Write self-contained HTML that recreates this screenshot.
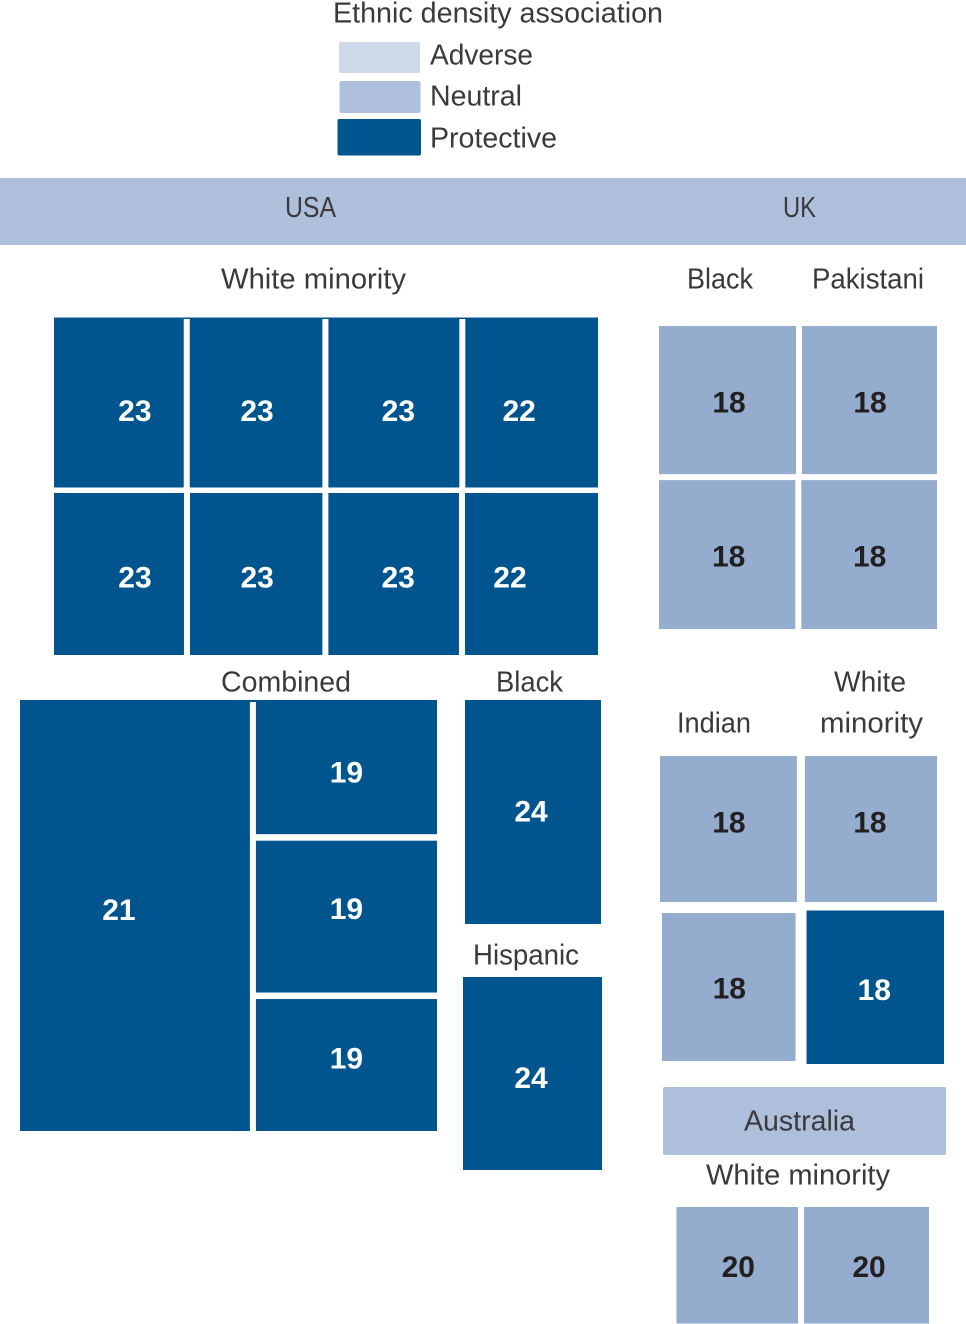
<!DOCTYPE html>
<html lang="en">
<head>
<meta charset="utf-8">
<title>Ethnic density association</title>
<style>
  html, body { margin: 0; padding: 0; background: #fff; }
  svg { display: block; }
  text { font-family: "Liberation Sans", sans-serif; }
  .head { font-size: 28.5px; fill: #3a3a3c; }
  .num { font-size: 30px; font-weight: bold; text-anchor: middle; }
  .num-neutral { fill: #231f20; }
  .num-protective { fill: #ffffff; }
  .tile-neutral { fill: #94acce; }
  .tile-protective { fill: #00558e; }
</style>
</head>
<body>
<svg id="chart" width="966" height="1324" viewBox="0 0 966 1324" xmlns="http://www.w3.org/2000/svg">
  <rect width="966" height="1324" fill="#ffffff"/>

  <g>
    <text class="head" x="333" y="22.5" textLength="330" lengthAdjust="spacingAndGlyphs">Ethnic density association</text>
    <rect x="339" y="42" width="81" height="31" rx="2" fill="#ced9ea"/>
    <text class="head" x="430" y="64.5" textLength="103" lengthAdjust="spacingAndGlyphs">Adverse</text>
    <rect x="339.5" y="81" width="81" height="32" rx="2" fill="#aebfdc"/>
    <text class="head" x="430" y="105.5" textLength="92" lengthAdjust="spacingAndGlyphs">Neutral</text>
    <rect x="337.5" y="119" width="83.5" height="36.5" rx="2" fill="#00558e"/>
    <text class="head" x="430" y="147.5" textLength="127" lengthAdjust="spacingAndGlyphs">Protective</text>
  </g>

  <rect x="0" y="178" width="966" height="67" fill="#aebfdc"/>
  <text class="head" x="285" y="217" textLength="51" lengthAdjust="spacingAndGlyphs">USA</text>
  <text class="head" x="783" y="217" textLength="33" lengthAdjust="spacingAndGlyphs">UK</text>

  <text class="head" x="221" y="288.5" textLength="185" lengthAdjust="spacingAndGlyphs">White minority</text>
  <text class="head" x="687" y="288.5" textLength="66" lengthAdjust="spacingAndGlyphs">Black</text>
  <text class="head" x="812" y="288.5" textLength="112" lengthAdjust="spacingAndGlyphs">Pakistani</text>
  <text class="head" x="221" y="691.5" textLength="130" lengthAdjust="spacingAndGlyphs">Combined</text>
  <text class="head" x="496" y="691.5" textLength="67" lengthAdjust="spacingAndGlyphs">Black</text>
  <text class="head" x="473" y="964.5" textLength="106" lengthAdjust="spacingAndGlyphs">Hispanic</text>
  <text class="head" x="677" y="732.5" textLength="74" lengthAdjust="spacingAndGlyphs">Indian</text>
  <text class="head" x="834" y="691.5" textLength="72" lengthAdjust="spacingAndGlyphs">White</text>
  <text class="head" x="820" y="732.5" textLength="103" lengthAdjust="spacingAndGlyphs">minority</text>

  <rect x="663" y="1087" width="283" height="68" rx="2" fill="#aebfdc"/>
  <text class="head" x="744" y="1130.5" textLength="111" lengthAdjust="spacingAndGlyphs">Australia</text>
  <text class="head" x="706" y="1184.5" textLength="184" lengthAdjust="spacingAndGlyphs">White minority</text>

  <g id="tiles"></g>
</svg>

<script>
// Printed reference numbers on each tile
const usaWhiteLabels = [[23, 23, 23, 22], [23, 23, 23, 22]];
const usaCombinedLabels = [[21], [19, 19, 19]];
const usaBlackHispanicLabels = [[24, 24]];
const ukBlackPakistaniLabels = [[18, 18], [18, 18]];
const ukIndianWhiteTopLabels = [[18, 18]];
const ukIndianWhiteBottomLabels = [[18, 18]];
const australiaLabels = [[20, 20]];

// Relative tile areas
const usaWhiteAreas = [[221, 226, 223, 226], [211, 215, 212, 216]];
const usaCombinedAreas = [[961], [243, 275, 239]];
const usaBlackHispanicAreas = [[311, 268]];
const ukBlackPakistaniAreas = [[203, 200], [203, 202]];
const ukIndianWhiteTopAreas = [[200, 193]];
const ukIndianWhiteBottomAreas = [[205, 211]];
const australiaAreas = [[142, 146]];

// Association category per tile
const usaWhiteAssoc = [['protective', 'protective', 'protective', 'protective'], ['protective', 'protective', 'protective', 'protective']];
const usaCombinedAssoc = [['protective'], ['protective', 'protective', 'protective']];
const usaBlackHispanicAssoc = [['protective', 'protective']];
const ukBlackPakistaniAssoc = [['neutral', 'neutral'], ['neutral', 'neutral']];
const ukIndianWhiteTopAssoc = [['neutral', 'neutral']];
const ukIndianWhiteBottomAssoc = [['neutral', 'protective']];
const australiaAssoc = [['neutral', 'neutral']];

const SVG_NS = 'http://www.w3.org/2000/svg';
const tilesLayer = document.getElementById('tiles');

function sum(list) {
  return list.reduce(function (a, b) { return a + b; }, 0);
}

// Maps a share of a total onto a pixel span
function spanScale(total, pixels) {
  return function (value) { return value / total * pixels; };
}

function drawTreemap(name, labels, areas, assoc, box) {
  const byRows = box.dir === 'rows';
  const mainStart = byRows ? box.y0 : box.x0;
  const mainEnd = byRows ? box.y1 : box.x1;
  const crossStart = byRows ? box.x0 : box.y0;
  const crossEnd = byRows ? box.x1 : box.y1;
  const sliceTotals = areas.map(sum);
  const mainScale = spanScale(sum(sliceTotals), mainEnd - mainStart - box.gapMain * (areas.length - 1));
  let mainPos = mainStart;
  let flat = 0;

  if (box.capHeight) {
    const cap = document.createElementNS(SVG_NS, 'rect');
    
    
    cap.setAttribute('x', box.x0);
    cap.setAttribute('y', box.y0);
    cap.setAttribute('width', box.x1 - box.x0);
    cap.setAttribute('height', box.capHeight);
    cap.setAttribute('class', 'tile-protective');
    tilesLayer.appendChild(cap);
  }

  areas.forEach(function (slice, i) {
    const mainSize = mainScale(sliceTotals[i]);
    const crossScale = spanScale(sliceTotals[i], crossEnd - crossStart - box.gapCross * (slice.length - 1));
    let crossPos = crossStart;
    slice.forEach(function (area, j) {
      const crossSize = crossScale(area);
      const inset = (box.insets && box.insets[flat]) || [0, 0, 0, 0];
      const nudge = (box.nudges && box.nudges[flat]) || [0, 0];
      const x = (byRows ? crossPos : mainPos) + inset[3];
      const y = (byRows ? mainPos : crossPos) + inset[0];
      const w = (byRows ? crossSize : mainSize) - inset[1] - inset[3];
      const h = (byRows ? mainSize : crossSize) - inset[0] - inset[2];
      const kind = assoc[i][j];

      const tile = document.createElementNS(SVG_NS, 'rect');
      
      
      tile.setAttribute('x', x);
      tile.setAttribute('y', y);
      tile.setAttribute('width', w);
      tile.setAttribute('height', h);
      tile.setAttribute('class', 'tile-' + kind);
      tilesLayer.appendChild(tile);

      const label = document.createElementNS(SVG_NS, 'text');
      
      
      label.setAttribute('x', x + w / 2 + nudge[0]);
      label.setAttribute('y', y + h / 2 + nudge[1]);
      label.setAttribute('dy', kind === 'neutral' ? '.32em' : '.35em');
      label.setAttribute('class', 'num num-' + kind);
      label.textContent = labels[i][j];
      tilesLayer.appendChild(label);

      crossPos += crossSize + box.gapCross;
      flat += 1;
    });
    mainPos += mainSize + box.gapMain;
  });
}

drawTreemap('usa-white-minority', usaWhiteLabels, usaWhiteAreas, usaWhiteAssoc, {
  dir: 'rows', x0: 54, y0: 317.5, x1: 598, y1: 655, gapMain: 5.5, gapCross: 6, capHeight: 1.5,
  nudges: { 0: [16, 8], 1: [1, 8], 2: [4.5, 8], 3: [-12.5, 8], 4: [16, 3], 5: [1, 3], 6: [4.5, 3], 7: [-21.5, 3] }
});
drawTreemap('usa-combined', usaCombinedLabels, usaCombinedAreas, usaCombinedAssoc, {
  dir: 'cols', x0: 20, y0: 700, x1: 437, y1: 1131, gapMain: 6, gapCross: 6.5, capHeight: 2,
  nudges: { 0: [-16, -6], 1: [0, 5], 2: [0, -8], 3: [0, -7] }
});
drawTreemap('usa-black-hispanic', usaBlackHispanicLabels, usaBlackHispanicAreas, usaBlackHispanicAssoc, {
  dir: 'cols', x0: 463, y0: 700, x1: 602, y1: 1170, gapMain: 0, gapCross: 53,
  insets: { 0: [0, 1, 0, 2] },
  nudges: { 0: [-2, -1], 1: [-1.5, 4] }
});
drawTreemap('uk-black-pakistani', ukBlackPakistaniLabels, ukBlackPakistaniAreas, ukBlackPakistaniAssoc, {
  dir: 'rows', x0: 659, y0: 326, x1: 937, y1: 629, gapMain: 6, gapCross: 6,
  nudges: { 0: [1.5, 3], 1: [0.5, 3], 2: [1.5, 2.5], 3: [0.5, 2.5] }
});
drawTreemap('uk-indian-white-top', ukIndianWhiteTopLabels, ukIndianWhiteTopAreas, ukIndianWhiteTopAssoc, {
  dir: 'rows', x0: 660, y0: 756, x1: 937, y1: 902, gapMain: 0, gapCross: 8,
  nudges: { 0: [0.5, -6], 1: [-1, -6] }
});
drawTreemap('uk-indian-white-bottom', ukIndianWhiteBottomLabels, ukIndianWhiteBottomAreas, ukIndianWhiteBottomAssoc, {
  dir: 'rows', x0: 662, y0: 910.5, x1: 944, y1: 1064, gapMain: 0, gapCross: 11,
  insets: { 0: [2.5, 0, 3, 0] },
  nudges: { 0: [0.5, 2], 1: [-1, 2] }
});
drawTreemap('australia-white-minority', australiaLabels, australiaAreas, australiaAssoc, {
  dir: 'rows', x0: 676.5, y0: 1207, x1: 929, y1: 1323.5, gapMain: 0, gapCross: 6,
  nudges: { 0: [1, 2], 1: [2.5, 2] }
});
</script>
</body>
</html>
